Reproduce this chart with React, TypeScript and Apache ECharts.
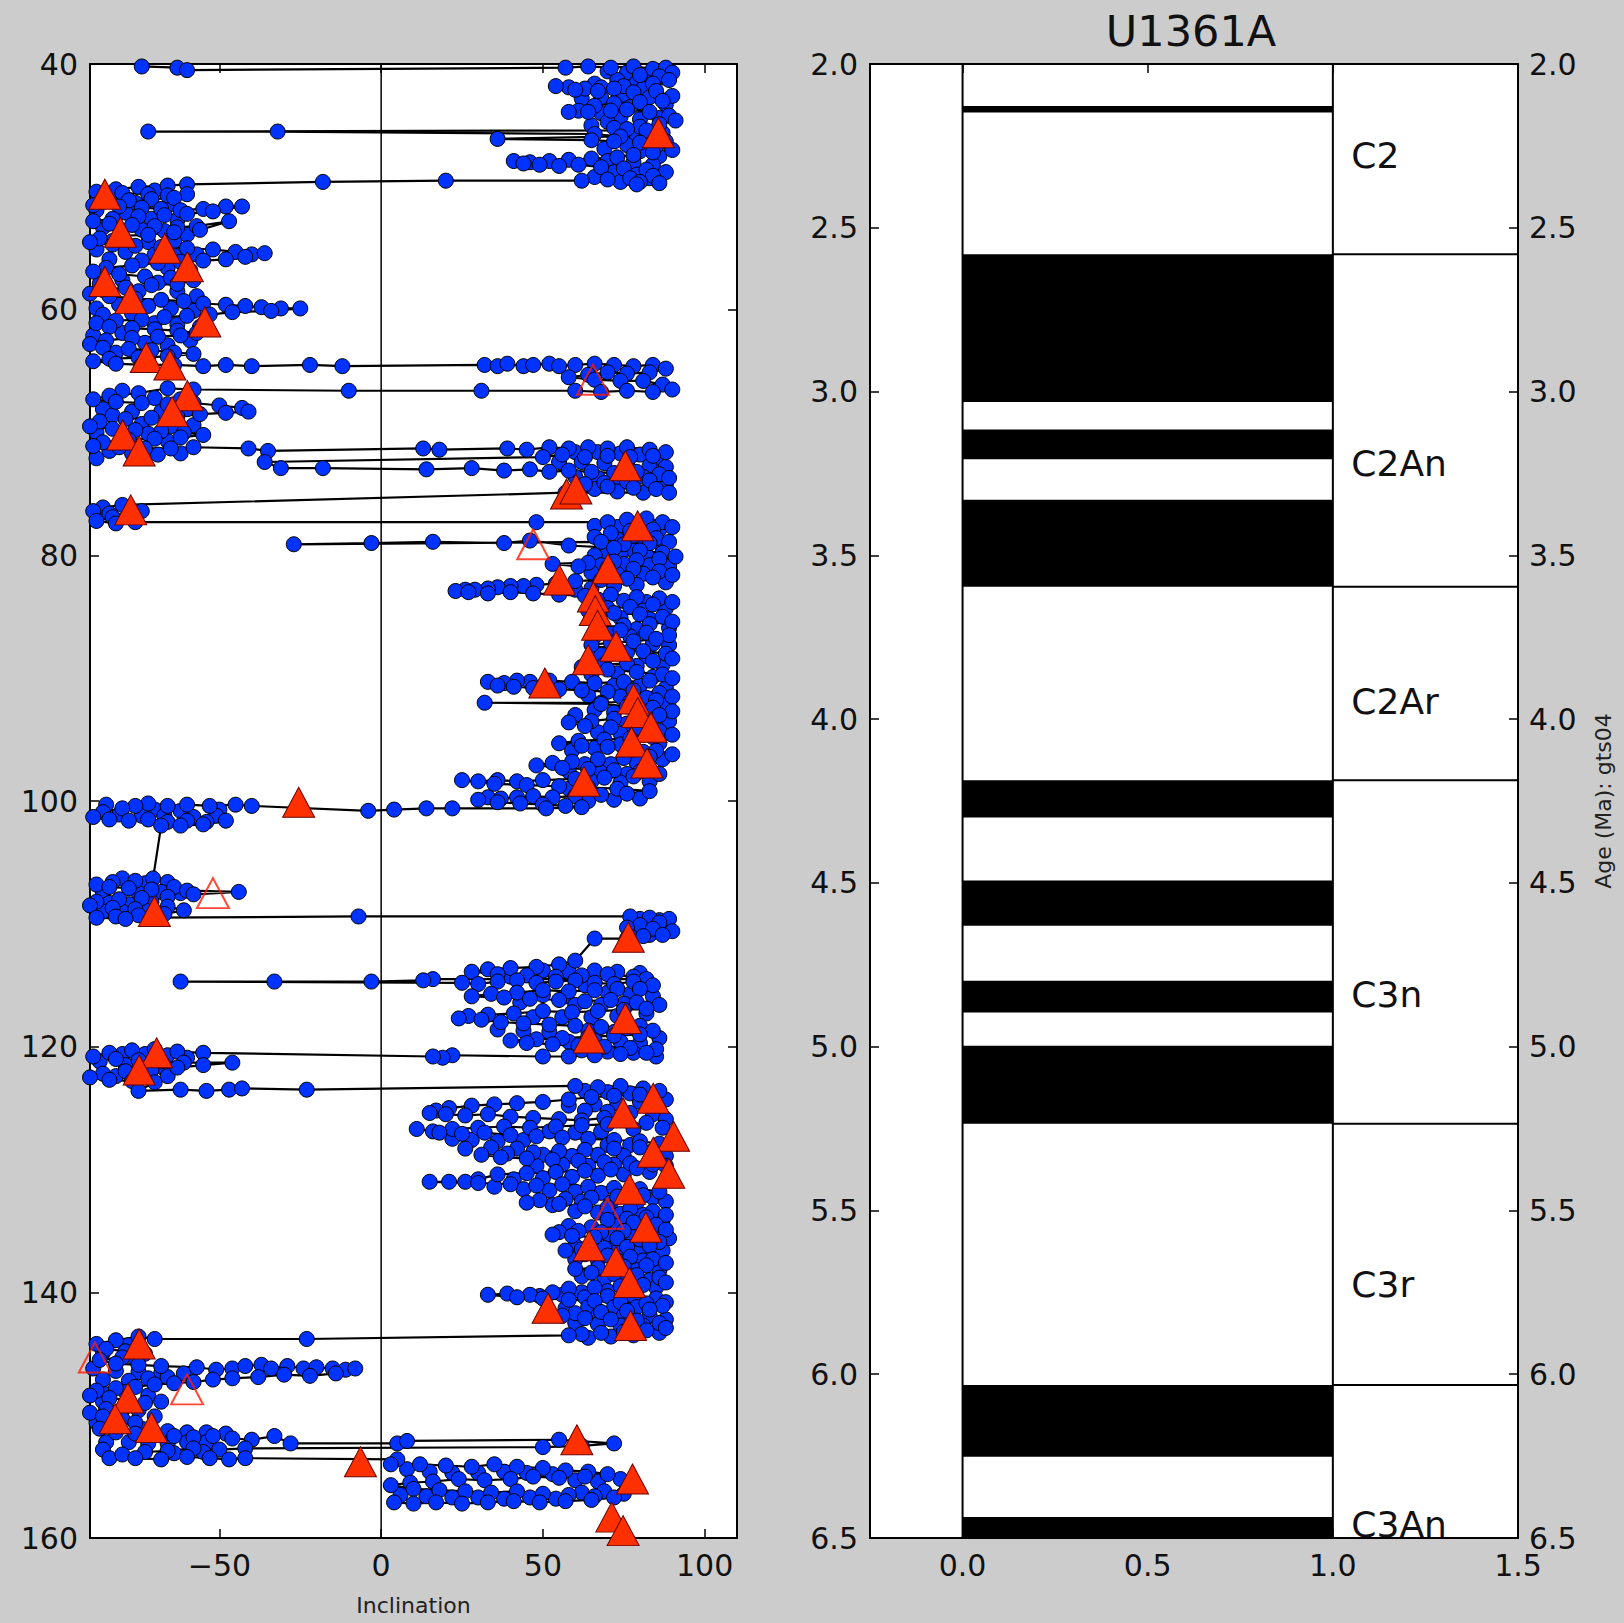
import React, { useEffect, useRef } from "react";
import * as echarts from "echarts";

// ---------- Left panel: inclination vs depth (blue: measurements, in depth order) ----------
const blue40to50: number[][] = [
  [-74,40.2],[-63,40.3],[-60,40.5],[57,40.3],[64,40.2],[71,40.3],[78,40.2],[84,40.4],[88,40.3],[90,40.7],[86,41.0],[80,40.9],[89,41.3],[84,41.6],[75,41.8],[68,41.9],[63,42.0],[58,41.9],[54,41.8],[60,42.1],[67,42.2],[72,42.0],[78,42.3],[85,42.2],[90,42.6],[87,43.0],[80,43.1],[72,43.2],[66,43.4],[61,43.8],[58,43.9],[64,43.9],[71,43.8],[76,43.7],[83,43.9],[89,44.2],[91,44.6],[86,44.9],[80,45.1],[76,45.3],[82,45.4],[-72,45.5],[-32,45.5],[66,45.7],[74,45.9],[36,46.1],[65,46.2],[72,46.3],[80,46.4],[85,46.7],[90,47.0],[84,47.2],[78,47.4],[73,47.6],[65,47.7],[58,47.8],[52,47.9],[46,48.0],[41,47.9],[44,48.1],[49,48.2],[55,48.3],[61,48.2],[68,48.4],[75,48.5],[82,48.6],[88,48.8],[84,49.1],[77,49.3],[70,49.4],[80,49.6],[86,49.7],[79,49.8],[62,49.5],[20,49.5],[-18,49.6],[-60,49.8]
];
const blue50to64: number[][] = [
  [-66,49.9],[-75,50.0],[-82,50.2],[-88,50.4],[-80,50.5],[-72,50.6],[-66,50.7],[-60,50.6],[-64,50.9],[-71,51.0],[-78,51.1],[-86,51.2],[-89,51.5],[-81,51.6],[-74,51.7],[-68,51.8],[-62,51.9],[-55,51.8],[-48,51.6],[-43,51.6],[-52,52.0],[-60,52.2],[-67,52.3],[-75,52.4],[-83,52.6],[-89,52.8],[-84,53.0],[-77,53.1],[-70,53.2],[-63,53.3],[-57,53.2],[-47,52.8],[-56,53.5],[-64,53.7],[-72,53.9],[-80,54.0],[-87,54.2],[-90,54.5],[-83,54.7],[-76,54.8],[-68,54.9],[-60,55.0],[-52,55.1],[-45,55.3],[-40,55.5],[-36,55.4],[-42,55.7],[-48,55.9],[-55,56.0],[-62,56.1],[-69,56.2],[-77,56.4],[-85,56.6],[-89,56.9],[-81,57.1],[-73,57.3],[-65,57.4],[-58,57.6],[-63,57.9],[-71,58.0],[-79,58.2],[-86,58.4],[-90,58.7],[-84,58.9],[-76,59.1],[-68,59.2],[-61,59.3],[-55,59.5],[-48,59.6],[-42,59.7],[-37,59.8],[-31,59.9],[-25,59.9],[-34,60.1],[-46,60.2],[-53,60.4],[-60,60.5],[-67,60.6],[-74,60.8],[-82,60.9],[-88,61.1],[-84,61.4],[-77,61.5],[-70,61.6],[-63,61.7],[-57,61.9],[-62,62.1],[-69,62.2],[-77,62.3],[-85,62.5],[-90,62.8],[-86,63.1],[-78,63.2],[-71,63.3],[-64,63.5],[-58,63.6],[-66,63.8],[-75,63.9],[-84,64.0],[-89,64.2]
];
const blue64to80: number[][] = [
  [-82,64.4],[-74,64.5],[-64,64.5],[-55,64.6],[-48,64.5],[-40,64.6],[-22,64.5],[-12,64.6],[32,64.5],[36,64.6],[39,64.4],[44,64.6],[47,64.5],[52,64.4],[55,64.6],[60,64.5],[66,64.4],[72,64.5],[78,64.6],[84,64.5],[88,64.8],[83,65.1],[76,65.2],[70,65.1],[64,65.3],[58,65.5],[66,65.7],[74,65.8],[81,65.8],[87,66.1],[90,66.5],[84,66.7],[76,66.6],[68,66.7],[60,66.6],[31,66.6],[-10,66.6],[-58,66.5],[-66,66.4],[-75,66.8],[-84,67.0],[-89,67.3],[-82,67.5],[-74,67.6],[-66,67.7],[-58,67.6],[-50,67.8],[-43,68.0],[-41,68.3],[-48,68.4],[-56,68.5],[-63,68.7],[-71,68.8],[-79,68.9],[-87,69.1],[-90,69.5],[-83,69.7],[-76,69.8],[-68,69.9],[-61,70.0],[-55,70.2],[-62,70.4],[-70,70.5],[-78,70.6],[-86,70.8],[-89,71.1],[-81,71.2],[-73,71.3],[-65,71.3],[-58,71.2],[-41,71.3],[-35,71.5],[13,71.3],[18,71.4],[39,71.3],[45,71.4],[52,71.2],[58,71.3],[64,71.2],[70,71.3],[76,71.2],[83,71.4],[88,71.6],[84,71.9],[77,72.0],[70,71.9],[63,72.0],[56,71.8],[50,72.0],[-36,72.4],[-31,72.9],[-18,72.9],[14,73.0],[28,72.9],[38,73.1],[46,73.0],[52,73.2],[58,73.1],[65,73.2],[72,73.3],[79,73.2],[86,73.4],[89,73.7],[83,73.9],[76,74.0],[69,74.1],[63,74.2],[70,74.4],[78,74.5],[85,74.6],[89,74.9],[57,74.9],[-80,75.9],[-86,76.1],[-89,76.4],[-84,76.6],[-78,76.7],[-74,76.4],[-83,76.9],[-88,77.2],[-82,77.4],[-76,77.3],[48,77.3],[70,77.3],[76,77.1],[82,77.0],[87,77.3],[90,77.7],[84,77.9],[77,78.0],[71,78.2],[78,78.4],[85,78.6],[89,78.9],[83,79.0],[75,79.1],[68,78.9],[-27,79.1],[-3,79.0],[16,78.9],[38,79.0],[46,78.8],[58,79.2],[72,79.4]
];
const blue80to100: number[][] = [
  [80,79.6],[87,79.8],[91,80.1],[86,80.3],[79,80.4],[72,80.5],[64,80.6],[53,80.7],[61,80.9],[70,81.0],[78,81.1],[86,81.3],[90,81.6],[84,81.8],[76,81.9],[68,82.0],[60,82.1],[54,82.3],[48,82.4],[44,82.5],[40,82.5],[36,82.6],[33,82.7],[29,82.8],[26,82.8],[23,82.9],[27,83.0],[33,83.1],[40,83.0],[47,83.1],[55,83.2],[63,83.3],[71,83.2],[79,83.4],[86,83.5],[90,83.8],[84,84.0],[77,84.2],[70,84.3],[64,84.5],[72,84.7],[80,84.8],[87,85.0],[90,85.4],[83,85.6],[75,85.7],[67,85.9],[74,86.1],[82,86.3],[89,86.5],[85,86.8],[78,87.0],[71,87.1],[65,87.3],[73,87.6],[81,87.8],[88,88.0],[90,88.4],[84,88.6],[76,88.8],[69,88.9],[62,89.1],[70,89.3],[79,89.5],[87,89.7],[90,90.0],[83,90.2],[75,90.3],[66,90.4],[59,90.3],[52,90.2],[46,90.3],[42,90.2],[38,90.4],[33,90.3],[36,90.6],[41,90.7],[47,90.8],[55,90.9],[62,91.0],[70,91.1],[78,91.0],[86,91.2],[90,91.5],[85,91.8],[77,91.9],[68,92.0],[32,92.0],[68,92.1],[76,92.3],[84,92.4],[90,92.7],[86,93.0],[79,93.2],[72,93.3],[65,93.5],[58,93.6],[63,93.9],[71,94.0],[79,94.1],[86,94.3],[90,94.6],[84,94.8],[77,94.9],[69,95.0],[61,95.1],[55,95.3],[62,95.5],[70,95.6],[78,95.8],[85,95.9],[90,96.2],[83,96.4],[75,96.5],[67,96.6],[59,96.8],[53,96.9],[48,97.1],[56,97.3],[64,97.4],[72,97.5],[80,97.6],[86,97.8],[78,98.0],[69,98.1],[60,98.2],[50,98.3],[42,98.4],[36,98.3],[30,98.4],[25,98.3],[35,98.6],[45,98.7],[55,98.8],[64,98.9],[73,99.0],[83,99.2],[76,99.4],[68,99.5],[60,99.6],[53,99.7],[47,99.6],[42,99.7],[37,99.8],[33,99.7],[30,99.9],[36,100.1],[43,100.2],[50,100.3],[57,100.4],[62,100.5],[51,100.6]
];
const blue100to114: number[][] = [
  [22,100.6],[14,100.6],[4,100.7],[-4,100.8],[-40,100.4],[-45,100.3],[-53,100.4],[-60,100.3],[-66,100.4],[-72,100.2],[-76,100.4],[-80,100.6],[-86,100.9],[-89,101.3],[-84,101.5],[-78,101.6],[-72,101.5],[-66,101.7],[-60,101.6],[-54,101.7],[-48,101.6],[-55,101.9],[-62,102.0],[-68,102.0],[-70.5,106.3],[-76,106.5],[-83,106.6],[-88,106.8],[-84,107.0],[-78,107.1],[-71,107.2],[-64,107.0],[-60,107.3],[-44,107.4],[-58,107.6],[-66,107.8],[-74,107.9],[-81,108.0],[-88,108.2],[-90,108.5],[-83,108.7],[-76,108.8],[-66,108.6],[-61,108.9],[-67,109.2],[-75,109.3],[-82,109.4],[-88,109.5],[-79,109.6],[-71,109.5],[-7,109.4],[77,109.4],[83,109.5],[89,109.6],[86,109.9],[80,110.1],[76,110.3],[84,110.4],[90,110.6],[87,110.9],[81,111.0],[76,111.2],[66,111.2],[60,113.0],[55,113.3],[48,113.5],[40,113.6],[33,113.7],[28,113.9],[36,114.1],[45,114.2],[54,114.3],[62,114.2],[70,114.1],[78,114.3],[82,114.5],[16,114.5],[13,114.6],[-3,114.7],[-33,114.7],[-62,114.7],[25,114.8]
];
const blue114to124: number[][] = [
  [30,114.9],[36,114.7],[42,114.6],[48,114.8],[54,114.7],[60,114.6],[66,114.8],[72,114.9],[78,114.7],[84,115.0],[80,115.3],[73,115.3],[66,115.4],[58,115.5],[50,115.4],[42,115.6],[34,115.7],[28,115.9],[38,116.0],[46,116.1],[55,116.2],[63,116.3],[71,116.2],[79,116.4],[86,116.6],[82,116.9],[75,117.0],[67,117.1],[59,117.2],[50,117.1],[41,117.3],[33,117.4],[27,117.5],[24,117.7],[31,117.8],[37,118.0],[44,118.1],[52,118.2],[60,118.3],[68,118.4],[76,118.5],[84,118.7],[80,119.0],[72,119.1],[64,119.2],[56,119.3],[48,119.4],[40,119.5],[45,119.7],[53,119.8],[61,119.9],[69,120.0],[77,120.1],[85,120.2],[82,120.5],[74,120.6],[66,120.7],[58,120.8],[50,120.8],[22,120.7],[19,120.9],[16,120.8],[-55,120.5],[-63,120.4],[-70,120.2],[-77,120.3],[-84,120.5],[-89,120.8],[-82,121.0],[-75,121.1],[-68,121.2],[-61,121.3],[-46,121.3],[-55,121.5],[-63,121.7],[-71,121.9],[-79,122.0],[-86,122.2],[-90,122.5],[-84,122.7],[-77,122.8],[-70,122.9],[-75,123.6],[-62,123.5],[-54,123.6],[-47,123.5],[-43,123.4],[-23,123.5],[60,123.2],[67,123.3],[74,123.2],[81,123.4],[86,123.6],[80,123.9],[72,124.0],[65,124.1],[58,124.3]
];
const blue124to144: number[][] = [
  [50,124.5],[42,124.6],[35,124.7],[28,124.8],[21,125.0],[17,125.2],[15,125.4],[20,125.5],[26,125.6],[33,125.5],[40,125.7],[47,125.8],[55,125.9],[62,126.0],[69,125.8],[76,126.0],[70,126.3],[62,126.4],[54,126.5],[46,126.6],[38,126.5],[30,126.6],[22,126.7],[16,126.9],[11,126.7],[18,127.0],[25,127.1],[32,127.0],[40,127.2],[48,127.3],[56,127.4],[64,127.5],[72,127.6],[80,127.7],[86,127.9],[80,128.2],[72,128.3],[63,128.4],[55,128.5],[47,128.6],[39,128.7],[31,128.8],[37,129.0],[45,129.1],[53,129.2],[61,129.3],[69,129.4],[77,129.5],[84,129.6],[79,129.9],[71,130.0],[63,130.1],[54,130.2],[45,130.3],[36,130.4],[30,130.8],[26,131.0],[21,131.0],[15,131.0],[30,131.1],[40,131.2],[48,131.3],[56,131.2],[64,131.4],[72,131.5],[80,131.6],[86,131.8],[81,132.1],[73,132.2],[65,132.3],[57,132.4],[49,132.5],[45,132.7],[55,132.8],[63,133.0],[70,133.1],[77,133.2],[84,133.4],[88,133.7],[82,133.9],[76,134.0],[70,134.1],[78,134.3],[85,134.5],[88,134.9],[82,135.0],[75,135.0],[68,135.1],[61,135.0],[55,135.1],[53,135.3],[59,135.4],[66,135.5],[73,135.6],[80,135.7],[86,135.9],[83,136.2],[76,136.3],[69,136.4],[62,136.5],[57,136.6],[63,136.9],[70,137.0],[77,137.1],[84,137.3],[88,137.6],[82,137.8],[75,137.9],[67,138.0],[60,138.1],[65,138.4],[72,138.5],[79,138.6],[86,138.8],[88,139.2],[81,139.4],[74,139.5],[66,139.6],[58,139.7],[53,140.0],[49,140.3],[46,140.2],[39,140.1],[33,140.2],[42,140.4],[50,140.5],[58,140.6],[66,140.7],[74,140.8],[82,140.9],[87,141.1],[83,141.4],[76,141.5],[68,141.6],[60,141.7],[56,141.9],[63,142.1],[71,142.2],[79,142.3],[86,142.5],[88,142.9],[82,143.1],[75,143.2],[68,143.3],[62,143.4],[58,143.5]
];
const blue144to160: number[][] = [
  [-23,143.8],[-70,143.8],[-75,143.6],[-82,143.9],[-88,144.2],[-85,144.6],[-79,144.8],[-73,145.0],[-80,145.3],[-87,145.5],[-82,145.8],[-75,145.9],[-68,146.0],[-57,146.1],[-51,146.3],[-46,146.2],[-42,146.0],[-37,145.9],[-34,146.2],[-29,146.0],[-24,146.2],[-20,146.1],[-15,146.2],[-11,146.3],[-8,146.2],[-14,146.6],[-22,146.8],[-30,146.7],[-38,146.9],[-46,147.0],[-52,147.1],[-58,147.3],[-64,147.4],[-70,147.5],[-76,147.7],[-82,147.8],[-88,148.0],[-90,148.4],[-84,148.6],[-78,148.8],[-73,149.0],[-79,149.3],[-85,149.5],[-90,149.8],[-86,150.1],[-80,150.3],[-76,150.6],[-81,150.9],[-87,151.1],[-82,151.4],[-76,151.5],[-70,151.6],[-64,151.7],[-58,151.8],[-52,151.7],[-46,151.9],[-40,152.0],[-33,151.7],[-28,152.3],[5,152.3],[8,152.1],[55,152.0],[72,152.3],[62,152.5],[50,152.6],[-42,152.7],[-50,152.8],[-58,152.7],[-66,152.9],[-73,153.0],[-80,153.2],[-76,153.5],[-68,153.6],[-60,153.4],[-53,153.5],[-47,153.6],[-42,153.5],[5,153.6],[3,154.0],[12,154.0],[20,154.1],[28,154.2],[35,154.0],[42,154.2],[50,154.3],[57,154.5],[64,154.6],[70,154.8],[63,155.0],[55,155.1],[47,155.0],[40,155.2],[32,155.3],[24,155.2],[16,155.4],[9,155.5],[3,155.7],[10,156.0],[18,156.1],[26,156.2],[34,156.3],[42,156.2],[50,156.4],[58,156.5],[66,156.6],[72,156.7],[65,156.9],[57,157.0],[49,157.1],[41,157.0],[33,157.1],[25,157.2],[17,157.1],[10,157.2],[4,157.1]
];

// additional measurements inside the dense clusters (same blue markers)
const clusterRight40: number[][] = [
  [70,40.6],[76,40.7],[82,40.9],[87,41.1],[73,41.3],[79,41.5],[66,41.6],[81,42.0],[75,42.5],[68,42.7],[62,42.8],[83,42.7],[88,43.3],[77,43.5],[68,44.0],[74,44.3],[80,44.5],[86,44.4],[70,44.7],[65,45.0],[72,45.2],[87,45.6],[79,45.9],[84,46.1],[88,46.3],[76,46.6],[69,46.9],[80,47.1],[86,47.5],[70,47.9],[78,48.0],[84,48.2],[72,48.8],[79,49.0],[66,49.2],[74,49.6],[83,49.3]
];
const clusterLeft50: number[][] = [
  [-70,50.3],[-84,50.8],[-76,51.3],[-65,51.4],[-88,51.9],[-79,52.1],[-71,52.6],[-63,52.7],[-86,53.3],[-74,53.5],[-67,53.6],[-60,53.9],[-83,54.4],[-72,54.5],[-64,54.4],[-88,55.1],[-79,55.3],[-70,55.5],[-64,55.6],[-57,55.5],[-84,55.9],[-74,56.0],[-66,56.6],[-59,56.8],[-80,57.6],[-87,57.9],[-69,57.8],[-75,58.5],[-63,58.5],[-57,58.9],[-81,59.6],[-88,59.9],[-72,59.7],[-65,59.9],[-58,60.1],[-77,60.3],[-86,60.4],[-70,61.1],[-63,61.2],[-56,61.4],[-80,61.9],[-89,62.1],[-73,62.7],[-66,62.9],[-59,62.5],[-82,63.5],[-72,64.0]
];
const clusterLeft66: number[][] = [
  [-80,66.6],[-70,67.2],[-62,67.3],[-86,68.1],[-77,68.3],[-68,68.3],[-60,68.1],[-83,68.6],[-74,69.3],[-65,69.5],[-58,69.4],[-88,70.0],[-80,70.1],[-72,70.1],[-66,70.7],[-84,71.5],[-77,71.7],[-69,71.8],[-62,71.7],[-88,72.1]
];
const clusterRight71: number[][] = [
  [60,71.6],[67,71.6],[74,71.7],[80,71.8],[86,72.1],[55,72.4],[62,72.4],[69,72.5],[76,72.6],[83,72.7],[88,72.8],[60,73.6],[67,73.7],[74,73.8],[81,73.6],[88,74.2],[66,74.6],[73,74.8],[81,74.9],
  [66,77.6],[73,77.7],[80,77.6],[86,77.9],[66,78.5],[73,78.7],[81,78.7],[87,79.3],[78,79.6],[70,79.8],[66,80.0],[74,80.0],[82,80.0]
];
const clusterRight80: number[][] = [
  [68,80.8],[75,80.7],[83,80.8],[89,80.9],[65,81.4],[73,81.5],[81,81.5],[88,82.2],[79,82.4],[72,82.5],[65,82.7],[60,82.8],[67,83.6],[75,83.7],[82,83.8],[88,84.3],[81,84.5],[74,85.1],[67,85.2],[83,85.2],[89,85.9],[79,86.0],[71,86.4],[66,86.6],[77,86.6],[84,87.2],[89,87.3],[76,87.9],[68,88.1],[82,88.2],[87,88.9],[79,89.0],[73,89.6],[65,89.7],[84,89.9],[80,90.6],[88,90.8],[72,90.6],[64,91.4],[74,91.5],[82,91.6],[87,92.2],[80,92.6],[72,92.8],[66,92.6],[60,93.0],[76,93.7],[83,93.6],[89,93.5],[67,94.4],[74,94.5],[81,94.6],[86,95.3],[74,95.4],[66,95.7],[59,95.9],[81,96.0],[87,96.6],[79,96.9],[71,97.0],[63,97.0],[58,97.6],[68,97.7],[76,97.8],[83,98.4],[74,98.5],[65,98.4],[58,99.0],[80,99.8],[72,99.9],[64,100.0]
];
const clusterLeft100: number[][] = [
  [-85,100.3],[-70,100.7],[-62,100.8],[-50,100.7],[-81,101.1],[-74,101.2],[-67,101.2],[-58,101.3],[-51,101.2],
  [-80,106.3],[-73,106.7],[-66,106.6],[-86,107.4],[-75,107.5],[-68,107.4],[-62,107.5],[-84,108.3],[-78,108.4],[-71,108.2],[-86,109.0],[-80,109.0],[-73,108.9]
];
const clusterRight109: number[][] = [
  [80,109.6],[86,109.7],[79,110.6],[88,110.2],[83,110.9],
  [50,113.8],[58,113.9],[66,113.8],[73,113.9],[80,114.0],[40,114.3],[63,115.0],[70,115.6],[77,115.7],[84,115.9],[50,115.8],[57,115.9],[43,116.4],[60,116.6],[68,116.6],[75,116.5],[82,117.3],[73,117.5],[65,117.6],[56,117.6],[47,117.6],[64,118.7],[72,118.8],[80,118.3],[86,119.3],[52,118.8],[44,118.7],[36,118.6],[58,119.6],[66,119.5],[74,119.6],[80,119.7],[62,120.3],[70,120.4],[78,120.5],[85,120.8]
];
const clusterLeft120: number[][] = [
  [-80,120.6],[-73,120.6],[-66,120.7],[-60,120.9],[-87,121.2],[-79,121.5],[-72,121.5],[-67,121.8],[-82,122.4],[-73,122.5],[-66,122.4]
];
const clusterRight123: number[][] = [
  [63,123.6],[70,123.7],[77,123.8],[84,124.0],[88,124.3],[80,124.5],[73,124.6],[66,124.7],[58,124.8],
  [63,125.2],[70,125.3],[77,125.4],[84,125.5],[88,125.9],[82,126.2],[87,126.6],[78,126.7],[68,126.9],[60,127.0],[52,126.9],[44,127.6],[36,127.7],[28,127.6],[22,127.5],[70,128.0],[77,128.0],[84,128.5],[88,128.9],[75,128.9],[67,128.8],[59,128.9],[50,128.8],[42,128.3],[34,128.2],[26,128.3],[48,129.7],[56,129.6],[64,129.7],[72,129.6],[88,129.7],[83,130.2],[75,130.4],[67,130.5],[59,130.6],[50,130.7],[41,130.8],[35,131.4],[44,131.6],[52,131.7],[60,131.8],[68,131.9],[76,132.0],[84,132.3],[88,132.6],[79,132.7],[71,132.7],[62,132.6],[53,132.9],[60,133.4],[67,133.5],[74,133.6],[81,133.7],[87,134.1],[80,134.6],[73,134.6],[65,134.7],[58,134.6],[70,135.3],[77,135.4],[84,135.3],[89,135.6],[80,136.0],[73,136.0],[66,136.0],[60,136.2],[87,136.6],[80,136.7],[73,136.7],[66,136.7],[60,137.3],[67,137.4],[74,137.5],[81,137.4],[86,138.2],[79,138.2],[72,138.2],[62,138.7],[69,138.9],[76,138.9],[83,139.0],[85,139.6],[77,139.8],[70,139.9],[62,140.0],[56,140.2],[63,140.4],[70,140.3],[78,140.3],[85,140.5],[88,140.8],[79,141.2],[72,141.2],[64,141.2],[57,141.3],[67,141.9],[75,141.9],[83,141.9],[88,142.2],[60,142.5],[67,142.6],[74,142.7],[81,142.7],[86,143.3],[78,143.5],[71,143.6],[64,143.7]
];
const clusterLeft144: number[][] = [
  [-78,144.3],[-86,144.9],[-76,145.4],[-89,146.2],[-82,146.4],[-75,146.5],[-68,146.6],[-61,146.6],[-86,147.1],[-78,147.2],[-72,147.0],[-66,146.9],[-85,148.3],[-79,148.1],[-72,148.4],[-68,148.9],[-86,148.9],[-82,149.8],[-75,149.6],[-70,150.1],[-88,150.6],[-83,150.7],[-74,151.1],[-66,151.3],[-60,151.4],[-54,151.4],[-48,151.5],[-85,152.2],[-78,152.2],[-72,152.3],[-66,152.3],[-60,152.2],[-54,152.2],[-86,152.8],[-84,153.5],[-64,153.1],[-55,153.0]
];
const clusterRight154: number[][] = [
  [8,154.4],[15,154.6],[22,154.7],[30,154.7],[38,154.6],[45,154.7],[53,154.8],[60,155.3],[67,155.4],[74,155.2],[6,156.5],[14,156.6],[22,156.7],[30,156.7],[38,156.8],[46,156.7],[54,156.8],[62,156.3],[69,156.2],[75,156.4]
];

// red filled triangles [inclination, depth]
const redTriangles: number[][] = [
  [85.7,45.6],[-85.4,50.6],[-80.6,53.7],[-66.9,55.0],[-59.9,56.5],[-85.4,57.7],[-77.4,59.1],[-54.5,61.0],[-72.6,63.9],[-65.3,64.5],[-59.9,67.0],[-64.6,68.3],[-79.9,70.2],[-74.8,71.5],[75.5,72.7],[57.3,75.0],[60.2,74.6],[-77.4,76.3],[79.3,77.6],[70.1,81.1],[55.1,82.0],[65.6,83.4],[66.2,84.5],[66.9,85.7],[72.6,87.4],[64.0,88.5],[50.6,90.4],[78.0,91.7],[79.3,92.8],[83.4,94.0],[77.4,95.2],[82.2,96.9],[62.7,98.4],[-25.5,100.1],[-70.1,109.0],[76.4,111.1],[75.5,117.7],[64.3,119.3],[-69.4,120.5],[-74.8,121.9],[84.1,124.2],[74.8,125.4],[90.4,127.3],[84.1,128.6],[88.9,130.3],[76.8,131.6],[81.8,134.7],[64.3,136.2],[72.6,137.5],[76.8,139.2],[51.6,141.3],[77.1,142.7],[-74.8,144.2],[-78.3,148.6],[-82.2,150.3],[-71.0,151.0],[60.5,152.0],[-6.4,153.8],[77.7,155.2],[71.3,158.3],[74.8,159.4]
];
// open (hollow) red triangles
const openTriangles: number[][] = [
  [65.5,65.7],[47,79.1],[-52,107.5],[-88.5,145.3],[-60,147.9],[70,133.6]
];
const inclinationTicks = [-50, 0, 50, 100];
const zeroLine: number[][] = [[0,40],[0,160]];

// ---------- Right panel: polarity column (GTS04) ----------
const normalChrons: number[][] = [
  [2.128,2.148],[2.581,3.032],[3.116,3.207],[3.330,3.596],[4.187,4.300],[4.493,4.631],[4.799,4.896],[4.997,5.235],[6.033,6.252],[6.436,6.733]
];
const chronBoundaries = [2.581, 3.596, 4.187, 5.235, 6.033];
const chronNames = ["C2", "C2An", "C2Ar", "C3n", "C3r", "C3An"];
const chronLabelAges = [2.28, 3.22, 3.945, 4.84, 5.725, 6.46];
const columnTicks = [0, 0.5, 1.0, 1.5];
const columnEdges = [0, 1];
const labelColumnEnd = 1.5;
const labelOffset = 1.05;

const FONT = "DejaVu Sans";
const BLUE = "#0033ff";

function fmtInc(v: number) {
  return v < 0 ? "\u2212" + Math.abs(v) : String(v);
}

export default function App() {
  const ref = useRef<HTMLDivElement>(null);
  useEffect(() => {
    const chart = echarts.init(ref.current!, null, { renderer: "svg" });
    const blueAll = [
      ...blue40to50, ...blue50to64, ...blue64to80, ...blue80to100,
      ...blue100to114, ...blue114to124, ...blue124to144, ...blue144to160,
    ];
    const clusterAll = [
      ...clusterRight40, ...clusterLeft50, ...clusterLeft66, ...clusterRight71, ...clusterRight80,
      ...clusterLeft100, ...clusterRight109, ...clusterLeft120, ...clusterRight123, ...clusterLeft144, ...clusterRight154,
    ];
    const axisLine = { show: true, onZero: false, lineStyle: { color: "#000", width: 2 } };
    const tick = (vals?: number[]) => ({
      show: true, inside: true, length: 9,
      lineStyle: { color: "#000", width: 1.5 },
      ...(vals ? { customValues: vals } : {}),
    });
    const lbl = { fontSize: 30, color: "#111", fontFamily: FONT };
    const noSplit = { show: false };

    const option: any = {
      animation: false,
      backgroundColor: "#cccccc",
      textStyle: { fontFamily: FONT },
      grid: [
        { left: 90, top: 64, width: 647, height: 1474, show: true, backgroundColor: "#fff", borderWidth: 0 },
        { left: 870, top: 64, width: 648, height: 1474, show: true, backgroundColor: "#fff", borderWidth: 0 },
      ],
      xAxis: [
        {
          type: "value", gridIndex: 0, position: "bottom", min: -90, max: 110,
          axisLine, axisTick: tick(inclinationTicks),
          axisLabel: { ...lbl, margin: 12, customValues: inclinationTicks, formatter: fmtInc },
          splitLine: noSplit,
          name: "Inclination", nameLocation: "middle", nameGap: 56,
          nameTextStyle: { fontSize: 22, color: "#222", fontFamily: FONT },
        },
        {
          type: "value", gridIndex: 0, position: "top", min: -90, max: 110,
          axisLine, axisTick: tick(inclinationTicks),
          axisLabel: { show: false, customValues: inclinationTicks }, splitLine: noSplit,
        },
        {
          type: "value", gridIndex: 1, position: "bottom", min: -0.25, max: 1.5,
          axisLine, axisTick: tick(columnTicks),
          axisLabel: { ...lbl, margin: 12, customValues: columnTicks, formatter: (v: number) => v.toFixed(1) },
          splitLine: noSplit,
        },
        {
          type: "value", gridIndex: 1, position: "top", min: -0.25, max: 1.5,
          axisLine, axisTick: tick(columnTicks),
          axisLabel: { show: false, customValues: columnTicks }, splitLine: noSplit,
        },
      ],
      yAxis: [
        {
          type: "value", gridIndex: 0, position: "left", min: 40, max: 160, interval: 20, inverse: true,
          axisLine, axisTick: tick(), axisLabel: { ...lbl, margin: 12 }, splitLine: noSplit,
        },
        {
          type: "value", gridIndex: 0, position: "right", min: 40, max: 160, interval: 20, inverse: true,
          axisLine, axisTick: tick(), axisLabel: { show: false }, splitLine: noSplit,
        },
        {
          type: "value", gridIndex: 1, position: "left", min: 2, max: 6.5, interval: 0.5, inverse: true,
          axisLine, axisTick: tick(),
          axisLabel: { ...lbl, margin: 12, formatter: (v: number) => v.toFixed(1) }, splitLine: noSplit,
        },
        {
          type: "value", gridIndex: 1, position: "right", min: 2, max: 6.5, interval: 0.5, inverse: true,
          axisLine, axisTick: tick(),
          axisLabel: { ...lbl, margin: 11, formatter: (v: number) => v.toFixed(1) }, splitLine: noSplit,
          name: "Age (Ma): gts04", nameLocation: "middle", nameRotate: 90, nameGap: 74,
          nameTextStyle: { fontSize: 22, color: "#222", fontFamily: FONT },
        },
      ],
      graphic: [
        {
          type: "text", x: 1191, y: 31,
          style: { text: "U1361A", fontSize: 43, fontFamily: FONT, fill: "#111", align: "center", verticalAlign: "middle" },
        },
      ],
      series: [
        {
          type: "line", xAxisIndex: 0, yAxisIndex: 0, data: zeroLine, symbol: "none",
          lineStyle: { color: "#000", width: 1.5 }, z: 1, silent: true,
        },
        {
          type: "scatter", xAxisIndex: 0, yAxisIndex: 0, data: clusterAll,
          symbol: "circle", symbolSize: 15,
          itemStyle: { color: BLUE, borderColor: "#000", borderWidth: 1, opacity: 1 },
          z: 2,
        },
        {
          type: "line", xAxisIndex: 0, yAxisIndex: 0, data: blueAll,
          symbol: "circle", symbolSize: 15, showSymbol: true, showAllSymbol: true,
          lineStyle: { color: "#000", width: 2.2 },
          itemStyle: { color: BLUE, borderColor: "#000", borderWidth: 1 },
          z: 2,
        },
        {
          type: "scatter", xAxisIndex: 0, yAxisIndex: 0, data: openTriangles,
          symbol: "triangle", symbolSize: [32, 30],
          itemStyle: { color: "rgba(255,255,255,0)", borderColor: "#ff1a00", borderWidth: 2 },
          z: 3,
        },
        {
          type: "scatter", xAxisIndex: 0, yAxisIndex: 0, data: redTriangles,
          symbol: "triangle", symbolSize: [32, 30],
          itemStyle: { color: "#ff3000", borderColor: "#6a0000", borderWidth: 1, opacity: 1 },
          z: 4,
        },
        {
          type: "custom", xAxisIndex: 2, yAxisIndex: 2,
          data: normalChrons.map(([t, b]) => [columnEdges[0], t, columnEdges[1], b]),
          encode: { x: [0, 2], y: [1, 3] },
          renderItem: (params: any, api: any) => {
            const p0 = api.coord([api.value(0), api.value(1)]);
            const p1 = api.coord([api.value(2), api.value(3)]);
            const cs = params.coordSys;
            const shape = echarts.graphic.clipRectByRect(
              { x: p0[0], y: p0[1], width: p1[0] - p0[0], height: p1[1] - p0[1] },
              { x: cs.x, y: cs.y, width: cs.width, height: cs.height }
            );
            return shape ? { type: "rect", shape, style: { fill: "#000" } } : null;
          },
          z: 2,
        },
        ...columnEdges.map((e) => ({
          type: "line", xAxisIndex: 2, yAxisIndex: 2, data: [[e, 2], [e, 6.5]], symbol: "none",
          lineStyle: { color: "#000", width: 2 }, z: 3, silent: true,
        })),
        {
          type: "custom", xAxisIndex: 2, yAxisIndex: 2,
          data: chronBoundaries.map((b) => [columnEdges[1], b, labelColumnEnd, b]),
          encode: { x: [0, 2], y: [1, 3] },
          renderItem: (params: any, api: any) => {
            const p0 = api.coord([api.value(0), api.value(1)]);
            const p1 = api.coord([api.value(2), api.value(3)]);
            return { type: "line", shape: { x1: p0[0], y1: p0[1], x2: p1[0], y2: p1[1] }, style: { stroke: "#000", lineWidth: 2 } };
          },
          z: 3,
        },
        {
          type: "custom", xAxisIndex: 2, yAxisIndex: 2,
          data: chronLabelAges.map((a) => [labelOffset, a]),
          encode: { x: 0, y: 1 },
          renderItem: (params: any, api: any) => {
            const p = api.coord([api.value(0), api.value(1)]);
            return {
              type: "text", x: p[0], y: p[1],
              style: { text: chronNames[params.dataIndex], fontSize: 36, fontFamily: FONT, fill: "#111", align: "left", verticalAlign: "middle" },
            };
          },
          z: 4,
        },
      ],
    };
    chart.setOption(option);
    return () => chart.dispose();
  }, []);
  return <div ref={ref} style={{ position: "absolute", left: 0, top: 0, width: 1624, height: 1623 }} />;
}
